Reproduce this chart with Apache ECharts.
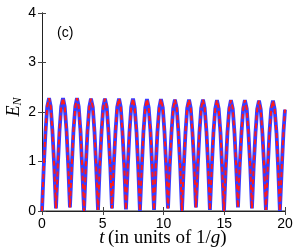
<!DOCTYPE html>
<html><head><meta charset="utf-8">
<script src="https://cdn.jsdelivr.net/npm/echarts@6/dist/echarts.min.js"></script>
<style>html,body{margin:0;padding:0;background:#fff}#c{width:300px;height:252px}</style>
</head><body><div id="c"></div>
<script>
// time samples (units of 1/g)
var times = [0,0.14,0.29,0.43,0.58,0.72,0.86,1.01,
1.15,1.30,1.44,1.58,1.73,1.87,2.02,2.16,
2.30,2.45,2.59,2.74,2.88,3.02,3.17,3.31,
3.46,3.60,3.74,3.89,4.03,4.18,4.32,4.46,
4.61,4.75,4.90,5.04,5.18,5.33,5.47,5.62,
5.76,5.90,6.05,6.19,6.34,6.48,6.62,6.77,
6.91,7.06,7.20,7.34,7.49,7.63,7.78,7.92,
8.06,8.21,8.35,8.50,8.64,8.78,8.93,9.07,
9.22,9.36,9.50,9.65,9.79,9.94,10.08,10.22,
10.37,10.51,10.66,10.80,10.94,11.09,11.23,11.38,
11.52,11.66,11.81,11.95,12.10,12.24,12.38,12.53,
12.67,12.82,12.96,13.10,13.25,13.39,13.54,13.68,
13.82,13.97,14.11,14.26,14.40,14.54,14.69,14.83,
14.98,15.12,15.26,15.41,15.55,15.70,15.84,15.98,
16.13,16.27,16.42,16.56,16.70,16.85,16.99,17.14,
17.28,17.42,17.57,17.71,17.86,18.00,18.14,18.29,
18.43,18.58,18.72,18.86,19.01,19.15,19.30,19.44,
19.58,19.73,19.87,20.00];
// E_N (blue solid curve)
var enBlue = [0,0.87,1.61,2.11,2.28,2.11,1.61,0.89,
0.05,0.90,1.62,2.11,2.28,2.11,1.62,0.91,
0.07,0.91,1.62,2.11,2.28,2.11,1.61,0.87,
0,0.87,1.60,2.10,2.27,2.10,1.60,0.88,
0.02,0.88,1.60,2.10,2.27,2.10,1.61,0.90,
0.05,0.90,1.61,2.10,2.27,2.10,1.60,0.89,
0.03,0.89,1.60,2.10,2.27,2.09,1.60,0.87,
0,0.87,1.60,2.09,2.26,2.09,1.60,0.88,
0.02,0.88,1.60,2.09,2.26,2.09,1.60,0.90,
0.05,0.89,1.60,2.08,2.25,2.08,1.59,0.86,
0,0.86,1.59,2.08,2.25,2.08,1.60,0.91,
0.07,0.91,1.60,2.08,2.25,2.08,1.59,0.88,
0.02,0.87,1.58,2.07,2.24,2.07,1.58,0.86,
0,0.86,1.58,2.07,2.24,2.07,1.59,0.90,
0.07,0.90,1.59,2.07,2.24,2.07,1.59,0.89,
0.05,0.89,1.58,2.06,2.23,2.06,1.58,0.87,
0.02,0.87,1.58,2.06,2.23,2.06,1.58,0.85,
0,0.85,1.58,2.05];
// E_N (red dashed curve, coincides with blue)
var enRed = enBlue.slice();
var xTicks = [0,5,10,15,20];
var yTicks = [0,1,2,3,4];

function pairs(xs, ys){ return xs.map(function(x,i){ return [x, ys[i]]; }); }

var chart = echarts.init(document.getElementById('c'), null, {renderer:'canvas'});
var axisLine = {show:true, lineStyle:{color:'#222', width:1}};
var tick = {show:true, inside:true, length:4, lineStyle:{color:'#444'}};
var lblFont = {color:'#000', fontFamily:'Liberation Sans', fontSize:14};
var serifI = {fontFamily:'Liberation Serif', fontStyle:'italic', fontSize:19, fill:'#000'};
var serifR = {fontFamily:'Liberation Serif', fontSize:19, fill:'#000'};
chart.setOption({
  animation:false,
  grid:{left:42, right:15, top:13, bottom:41, containLabel:false, outerBoundsMode:'none'},
  xAxis:[
    {type:'value', min:xTicks[0], max:xTicks[xTicks.length-1], interval:5, position:'bottom',
     axisLine:{show:true, lineStyle:{color:'#777', width:1.5}}, axisTick:tick, splitLine:{show:false},
     axisLabel:Object.assign({margin:6}, lblFont)},
    {type:'value', min:0, max:20, interval:5, position:'top',
     axisLine:axisLine, axisTick:tick, axisLabel:{show:false}, splitLine:{show:false}}
  ],
  yAxis:[
    {type:'value', min:yTicks[0], max:yTicks[yTicks.length-1], interval:1, position:'left',
     axisLine:axisLine, axisTick:tick, splitLine:{show:false},
     axisLabel:Object.assign({margin:6}, lblFont)},
    {type:'value', min:0, max:4, interval:1, position:'right',
     axisLine:axisLine, axisTick:tick, axisLabel:{show:false}, splitLine:{show:false}}
  ],
  graphic:[
    {type:'text', left:57, top:26, style:{text:'(c)', fontFamily:'Liberation Sans', fontSize:14, fill:'#000'}},
    {type:'text', x:163, y:238, style:{text:'{i|t} {r|(in units of 1/}{i|g}{r|)}', align:'center', verticalAlign:'middle',
      rich:{i:serifI, r:serifR}}},
    {type:'text', x:14, y:107, rotation:Math.PI/2, style:{text:'{e|E}{n|N}', align:'center', verticalAlign:'middle',
      rich:{e:{fontFamily:'Liberation Serif', fontStyle:'italic', fontSize:18, fill:'#000'},
            n:{fontFamily:'Liberation Serif', fontStyle:'italic', fontSize:12, fill:'#000', padding:[7,0,0,0]}}}}
  ],
  series:[
    {type:'line', data:pairs(times, enBlue), showSymbol:false, symbol:'none',
     lineStyle:{color:'#3a3cff', width:3.8}, z:2},
    {type:'line', data:pairs(times, enRed), showSymbol:false, symbol:'none',
     lineStyle:{color:'#ff1a1a', width:2, type:[5,3]}, z:3}
  ]
});
</script></body></html>
